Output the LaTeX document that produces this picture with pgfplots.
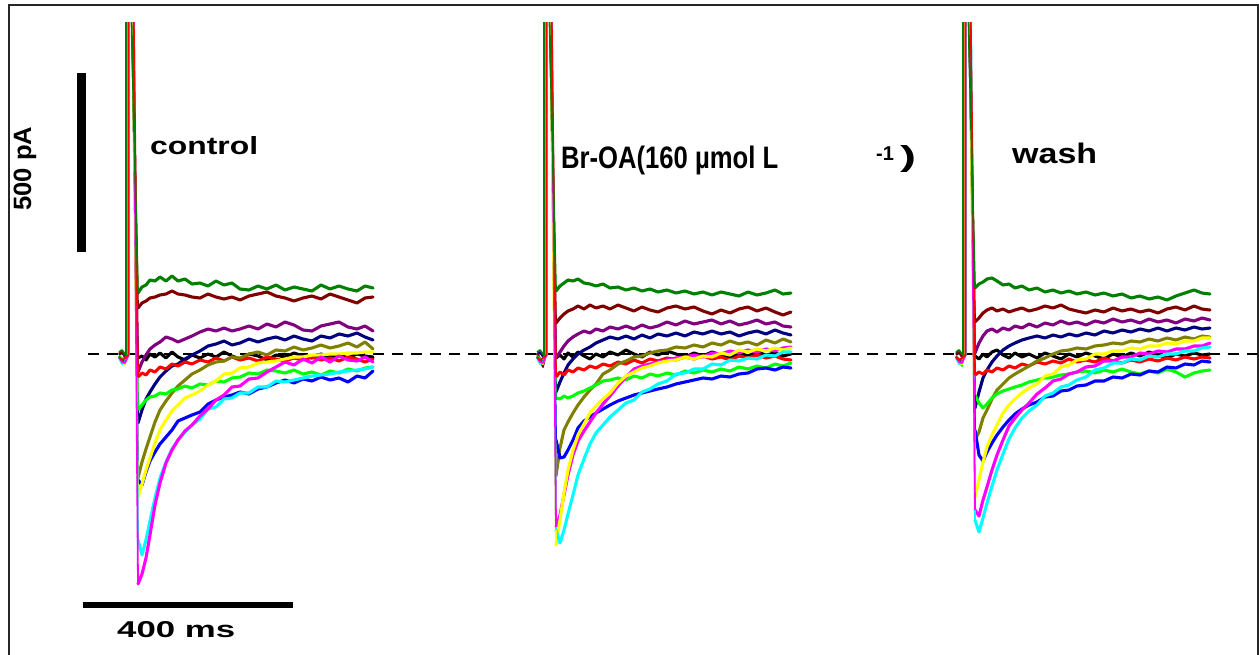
\documentclass[border=0pt]{standalone}
\usepackage{pgfplots}
\usepackage{pgfplotstable}
\usepackage{graphicx}
\usepackage{fontspec}
\setmainfont{Liberation Sans}
\pgfplotsset{compat=1.18}
\definecolor{dkgreen}{RGB}{0,128,0}
\definecolor{maroonc}{RGB}{128,0,0}
\definecolor{purp}{RGB}{128,0,128}
\definecolor{navyc}{RGB}{0,0,128}
\definecolor{olivec}{RGB}{128,128,0}
\definecolor{redc}{RGB}{255,0,0}
\definecolor{limec}{RGB}{0,255,0}
\definecolor{yel}{RGB}{255,255,0}
\definecolor{bluec}{RGB}{0,0,255}
\definecolor{mag}{RGB}{255,0,255}
\definecolor{cyanc}{RGB}{0,255,255}

\pgfplotstableread{
x g m p n k o r l y b mg c
138 293 308 372 423 358 478 377 410 497 480 584 540
142 287 303 362 410 356 462 373 405 484 485 574 555
146 285 301 355 399 360 449 375 400 470 472 558 540
150 280 298 349 392 354 437 370 397 458 461 535 521
155 281 297 345 384 357 422 372 396 443 452 505 498
160 277 295 342 377 353 410 367 393 430 444 483 478
166 281 294 337 371 358 401 369 394 420 437 463 462
172 276 291 339 366 352 393 364 390 411 430 450 449
178 281 294 342 364 357 386 366 389 405 421 440 440
185 279 295 339 359 360 380 362 386 398 418 431 432
192 284 297 336 355 355 374 364 388 395 415 425 425
200 283 298 332 351 358 370 360 384 391 412 416 419
208 286 294 329 346 354 365 362 385 385 404 409 409
216 281 297 331 344 357 362 358 381 381 400 400 407
224 285 299 328 341 352 361 361 382 374 397 395 399
232 283 297 331 345 356 357 357 378 373 395 387 398
240 289 300 329 343 359 358 360 377 368 392 386 393
249 290 296 326 339 354 354 358 373 367 394 379 393
258 286 294 329 342 356 352 361 374 363 389 378 387
267 289 292 324 339 360 355 357 370 362 387 372 387
276 285 296 327 337 355 350 359 371 361 383 367 381
285 290 298 322 340 357 351 361 373 359 380 362 382
294 287 301 325 336 353 347 358 370 357 383 365 380
303 289 298 330 339 356 350 360 374 357 379 359 378
312 291 296 331 341 358 348 357 372 355 381 363 376
321 285 299 326 336 354 345 360 375 355 377 357 375
330 289 294 324 338 357 348 358 371 354 380 362 374
339 286 297 322 334 355 346 361 373 354 378 356 372
348 289 300 327 336 358 343 357 369 353 382 360 371
357 291 303 329 333 354 347 359 371 353 376 361 370
365 286 298 326 337 356 342 362 368 352 378 357 369
373 288 297 331 340 357 349 359 367 352 371 362 367
}\groupA

\pgfplotstableread{
x g m p n k o r l y b mg c
556 291 323 358 392 358 476 377 398 545 440 527 530
560 286 318 352 382 355 448 372 399 520 458 515 543
564 283 314 346 373 359 430 375 396 493 457 495 530
568 280 311 341 365 353 422 370 398 470 450 475 514
573 281 309 337 359 357 413 372 396 450 440 455 495
578 279 306 334 354 352 405 368 393 435 428 441 475
584 283 309 331 350 356 397 370 391 424 421 431 459
590 284 305 333 347 359 390 366 388 413 417 422 444
596 286 308 329 343 354 384 368 385 406 413 413 433
603 284 306 331 340 357 374 364 381 399 409 404 425
610 288 309 327 337 352 370 366 380 393 405 396 417
618 287 305 329 339 355 364 362 378 383 401 386 410
626 290 308 326 336 350 361 364 380 376 398 377 403
634 288 311 329 339 354 357 360 376 372 395 369 400
642 291 307 325 335 357 356 363 378 368 393 366 392
650 289 310 328 338 352 353 359 374 366 391 364 389
658 292 312 326 334 355 351 361 376 363 389 362 384
667 290 308 322 336 351 350 358 373 361 387 360 381
676 293 306 325 333 354 347 360 375 360 384 358 374
685 291 309 321 336 357 348 357 371 357 382 357 373
694 294 307 324 332 353 345 359 373 359 380 355 369
703 292 311 322 334 356 347 356 370 356 378 357 369
712 295 314 320 331 352 343 359 372 357 379 353 364
721 292 310 324 334 355 345 357 369 353 376 354 365
730 294 313 321 332 358 341 360 371 355 377 351 360
739 296 309 325 336 353 344 356 367 350 374 353 361
748 292 307 323 333 356 342 358 369 352 373 350 358
757 295 311 320 331 352 345 355 366 349 369 352 359
766 293 308 324 334 355 340 358 368 351 368 349 355
775 290 312 322 330 353 343 356 364 348 370 351 356
783 294 315 326 333 356 339 359 366 350 367 348 352
791 293 312 327 335 354 342 360 363 348 368 347 352
}\groupB

\pgfplotstableread{
x g m p n k o r l y b mg c
975 288 322 353 408 356 440 375 395 497 430 510 520
979 284 318 343 392 359 432 372 403 480 455 516 532
983 282 313 336 378 354 418 374 408 462 461 500 518
987 279 310 331 370 357 410 370 404 447 452 487 503
992 278 308 329 362 352 399 372 398 435 443 470 486
997 281 311 332 356 350 390 368 394 425 435 455 470
1003 285 309 328 350 355 384 370 391 413 427 440 454
1009 284 312 330 346 358 378 366 389 405 420 426 439
1015 288 310 326 343 353 374 368 387 399 414 418 428
1022 286 308 328 340 357 370 364 385 393 409 410 418
1029 290 311 324 338 354 366 366 382 388 405 403 411
1037 288 309 327 336 358 361 362 380 384 402 394 405
1045 292 306 323 338 353 358 364 378 376 397 388 396
1053 290 308 325 335 356 354 361 377 374 396 381 393
1061 293 305 321 337 359 351 363 375 367 391 379 387
1069 291 309 324 334 354 350 359 374 365 390 374 385
1077 294 311 322 336 357 348 362 372 360 386 372 380
1086 292 313 325 333 353 349 360 371 359 385 367 377
1095 295 310 321 335 356 346 362 373 354 381 366 370
1104 293 312 323 331 359 345 358 370 354 381 361 368
1113 296 308 319 333 354 343 361 372 351 377 361 363
1122 294 311 322 330 357 344 363 369 351 378 357 363
1131 298 309 320 332 353 341 360 372 348 374 357 359
1140 296 312 323 329 356 342 362 374 349 375 353 360
1149 299 310 319 331 352 339 359 371 346 371 354 356
1158 297 313 322 328 355 341 361 373 346 372 351 357
1167 300 309 320 331 358 338 358 369 343 367 352 354
1176 296 307 323 328 354 340 360 372 344 368 349 354
1185 293 310 319 330 356 337 357 377 341 364 349 351
1194 290 306 321 327 353 339 359 373 341 365 346 351
1202 293 309 318 329 355 336 357 371 338 361 346 348
1210 294 310 320 328 354 337 358 370 338 362 343 347
}\groupC

\begin{document}
\begin{tikzpicture}
% ---------- frame, baseline, scale bars, texts ----------
\begin{axis}[
  at={(0,0)}, anchor=south west,
  scale only axis, width=1259bp, height=655bp,
  xmin=0, xmax=1259, ymin=0, ymax=655, y dir=reverse,
  axis lines=none, ticks=none,
]
\addplot[black!85, line width=1.6bp] coordinates {(9,660)(9,5)(1258,5)(1258,660)};
\addplot[black, line width=1.8bp, dash pattern=on 11bp off 8bp] coordinates {(88,354)(1259,354)};
\addplot[black, line width=9bp] coordinates {(81.5,73)(81.5,252)};
\addplot[black, line width=5.5bp] coordinates {(83,605)(293,605)};
\node[anchor=base west, inner sep=0pt] at (axis cs:150,154) {\resizebox{108bp}{18bp}{\bfseries control}};
\node[anchor=base west, inner sep=0pt] at (axis cs:561,168) {\resizebox{217bp}{22.5bp}{\bfseries Br-OA(160 µmol L}};
\node[anchor=base west, inner sep=0pt] at (axis cs:876,160) {\fontsize{20bp}{20bp}\selectfont\bfseries -1};
\node[anchor=south west, inner sep=0pt] at (axis cs:900,173) {\resizebox*{16bp}{27bp}{\bfseries )}};
\node[anchor=base west, inner sep=0pt] at (axis cs:1012,163.5) {\resizebox{85bp}{20.5bp}{\bfseries wash}};
\node[anchor=base west, inner sep=0pt] at (axis cs:117,637) {\resizebox{118bp}{16bp}{\bfseries 400 ms}};
\node[anchor=base west, inner sep=0pt, rotate=90] at (axis cs:31,211) {\resizebox{84bp}{17.5bp}{\bfseries 500 pA}};
\end{axis}
% ---------- traces (clipped at the top like the original) ----------
\begin{axis}[
  at={(0,0)}, anchor=south west,
  scale only axis, width=1259bp, height=632bp,
  xmin=0, xmax=1259, ymin=23, ymax=655, y dir=reverse,
  axis lines=none, ticks=none,
  tr/.style={line width=3.1bp, line join=round, line cap=round},
  sp/.style={line width=1.8bp, line join=round},
]
\addplot[tr, black]   table[x=x,y=k] {\groupA};
\addplot[tr, navyc]   table[x=x,y=n] {\groupA};
\addplot[tr, purp]    table[x=x,y=p] {\groupA};
\addplot[tr, maroonc] table[x=x,y=m] {\groupA};
\addplot[tr, dkgreen] table[x=x,y=g] {\groupA};
\addplot[tr, redc]    table[x=x,y=r] {\groupA};
\addplot[tr, olivec]  table[x=x,y=o] {\groupA};
\addplot[tr, limec]   table[x=x,y=l] {\groupA};
\addplot[tr, bluec]   table[x=x,y=b] {\groupA};
\addplot[tr, yel]     table[x=x,y=y] {\groupA};
\addplot[tr, cyanc]   table[x=x,y=c] {\groupA};
\addplot[tr, mag]     table[x=x,y=mg] {\groupA};

\addplot[tr, black]   table[x=x,y=k] {\groupB};
\addplot[tr, navyc]   table[x=x,y=n] {\groupB};
\addplot[tr, purp]    table[x=x,y=p] {\groupB};
\addplot[tr, maroonc] table[x=x,y=m] {\groupB};
\addplot[tr, dkgreen] table[x=x,y=g] {\groupB};
\addplot[tr, redc]    table[x=x,y=r] {\groupB};
\addplot[tr, olivec]  table[x=x,y=o] {\groupB};
\addplot[tr, limec]   table[x=x,y=l] {\groupB};
\addplot[tr, bluec]   table[x=x,y=b] {\groupB};
\addplot[tr, mag]     table[x=x,y=mg] {\groupB};
\addplot[tr, yel]     table[x=x,y=y] {\groupB};
\addplot[tr, cyanc]   table[x=x,y=c] {\groupB};

\addplot[tr, black]   table[x=x,y=k] {\groupC};
\addplot[tr, navyc]   table[x=x,y=n] {\groupC};
\addplot[tr, purp]    table[x=x,y=p] {\groupC};
\addplot[tr, maroonc] table[x=x,y=m] {\groupC};
\addplot[tr, dkgreen] table[x=x,y=g] {\groupC};
\addplot[tr, redc]    table[x=x,y=r] {\groupC};
\addplot[tr, olivec]  table[x=x,y=o] {\groupC};
\addplot[tr, limec]   table[x=x,y=l] {\groupC};
\addplot[tr, bluec]   table[x=x,y=b] {\groupC};
\addplot[tr, yel]     table[x=x,y=y] {\groupC};
\addplot[tr, mag]     table[x=x,y=mg] {\groupC};
\addplot[tr, cyanc]   table[x=x,y=c] {\groupC};

% ---------- stimulus artefacts, group 1 ----------
\addplot[sp, black]   coordinates {(119,355)(122,353)(125,356)(126.5,355)(126.5,0)(131.5,0)(138,358)};
\addplot[sp, navyc]   coordinates {(119,354)(122,352)(125,357)(127.5,355)(127.5,0)(132.5,0)(138,423)};
\addplot[sp, purp]    coordinates {(119,353)(122,351)(125,358)(128,355)(128,0)(133,0)(138,372)};
\addplot[sp, maroonc] coordinates {(119,354)(122,352)(125,356)(127,355)(127,0)(132,0)(138,308)};
\addplot[sp, olivec]  coordinates {(119,356)(122,359)(125,361)(127,355)(127,0)(132,0)(138,478)};
\addplot[sp, limec]   coordinates {(119,356)(122,358)(125,360)(127,355)(127,0)(132,0)(138,410)};
\addplot[sp, bluec]   coordinates {(119,357)(122,361)(125,362)(128,355)(128,0)(133,0)(138,480)};
\addplot[sp, yel]     coordinates {(119,358)(122,363)(125,364)(127.5,355)(127.5,0)(132.5,0)(138,497)};
\addplot[sp, cyanc]   coordinates {(119,358)(122,364)(125,362)(129,355)(129,0)(134,0)(138,540)};
\addplot[sp, mag]     coordinates {(119,357)(122,362)(125,363)(128.5,355)(128.5,0)(133.5,0)(138,584)};
\addplot[sp, redc]    coordinates {(119,357)(122,360)(125,358)(128.5,355)(128.5,0)(133.5,0)(138,377)};
\addplot[sp, dkgreen] coordinates {(119,352)(122,350)(125,354)(126,355)(126,0)(131,0)(138,293)};

% ---------- stimulus artefacts, group 2 ----------
\addplot[sp, black]   coordinates {(537,355)(540,353)(543,356)(544.5,355)(544.5,0)(549.5,0)(556,358)};
\addplot[sp, navyc]   coordinates {(537,354)(540,352)(543,357)(545.5,355)(545.5,0)(550.5,0)(556,392)};
\addplot[sp, purp]    coordinates {(537,353)(540,358)(543,366)(546,355)(546,0)(551,0)(556,358)};
\addplot[sp, maroonc] coordinates {(537,354)(540,360)(543,367)(545,355)(545,0)(550,0)(556,323)};
\addplot[sp, olivec]  coordinates {(537,356)(540,359)(543,361)(545,355)(545,0)(550,0)(556,476)};
\addplot[sp, limec]   coordinates {(537,356)(540,358)(543,360)(545,355)(545,0)(550,0)(556,398)};
\addplot[sp, bluec]   coordinates {(537,357)(540,361)(543,362)(546,355)(546,0)(551,0)(556,440)};
\addplot[sp, yel]     coordinates {(537,358)(540,363)(543,364)(545.5,355)(545.5,0)(550.5,0)(556,545)};
\addplot[sp, cyanc]   coordinates {(537,358)(540,364)(543,362)(547,355)(547,0)(552,0)(556,530)};
\addplot[sp, mag]     coordinates {(537,357)(540,362)(543,363)(546.5,355)(546.5,0)(551.5,0)(556,527)};
\addplot[sp, redc]    coordinates {(537,357)(540,360)(543,358)(546.5,355)(546.5,0)(551.5,0)(556,377)};
\addplot[sp, dkgreen] coordinates {(537,352)(540,350)(543,354)(544,355)(544,0)(549,0)(556,291)};

% ---------- stimulus artefacts, group 3 ----------
\addplot[sp, black]   coordinates {(956,355)(959,353)(962,356)(963.5,355)(963.5,0)(968.5,0)(975,356)};
\addplot[sp, navyc]   coordinates {(956,354)(959,352)(962,357)(964.5,355)(964.5,0)(969.5,0)(975,408)};
\addplot[sp, purp]    coordinates {(956,353)(959,351)(962,358)(965,355)(965,0)(970,0)(975,353)};
\addplot[sp, maroonc] coordinates {(956,354)(959,352)(962,356)(964,355)(964,0)(969,0)(975,322)};
\addplot[sp, olivec]  coordinates {(956,356)(959,359)(962,361)(964,355)(964,0)(969,0)(975,440)};
\addplot[sp, limec]   coordinates {(956,356)(959,360)(962,366)(964,355)(964,0)(969,0)(975,395)};
\addplot[sp, bluec]   coordinates {(956,357)(959,361)(962,362)(965,355)(965,0)(970,0)(975,430)};
\addplot[sp, yel]     coordinates {(956,358)(959,363)(962,364)(964.5,355)(964.5,0)(969.5,0)(975,497)};
\addplot[sp, cyanc]   coordinates {(956,358)(959,364)(962,362)(966,355)(966,0)(971,0)(975,520)};
\addplot[sp, mag]     coordinates {(956,357)(959,362)(962,363)(965.5,355)(965.5,0)(970.5,0)(975,510)};
\addplot[sp, redc]    coordinates {(956,357)(959,360)(962,358)(965.5,355)(965.5,0)(970.5,0)(975,375)};
\addplot[sp, dkgreen] coordinates {(956,352)(959,350)(962,354)(963,355)(963,0)(968,0)(975,288)};
\end{axis}
\pgfresetboundingbox
\useasboundingbox (0,0) rectangle (1259bp,655bp);
\end{tikzpicture}
\end{document}
